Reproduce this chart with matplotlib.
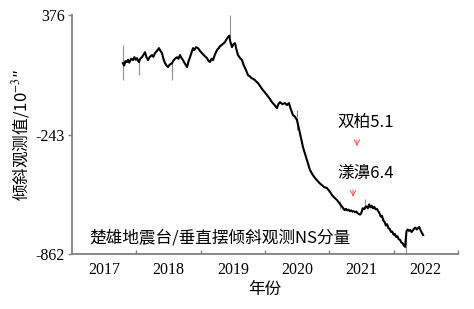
import matplotlib
matplotlib.use("Agg")
import matplotlib.pyplot as plt

plt.rcParams['font.family'] = ['Liberation Serif', 'Noto Sans CJK SC', 'DejaVu Sans']
plt.rcParams['mathtext.fontset'] = 'stix'

# 观测曲线 (年, 值)
years = [2017.79, 2017.81, 2017.83, 2017.855, 2017.87, 2017.89, 2017.92, 2017.948, 2017.97, 2017.99,
         2018.01, 2018.025, 2018.041, 2018.06, 2018.088, 2018.11, 2018.135, 2018.155, 2018.181, 2018.21,
         2018.244, 2018.265, 2018.29, 2018.32, 2018.352, 2018.375, 2018.399, 2018.42, 2018.446, 2018.47,
         2018.492, 2018.52, 2018.554, 2018.575, 2018.60, 2018.632, 2018.655, 2018.679, 2018.70, 2018.725,
         2018.755, 2018.788, 2018.81, 2018.834, 2018.86, 2018.881, 2018.90, 2018.93, 2018.959, 2018.99,
         2019.021, 2019.06, 2019.099, 2019.12, 2019.145, 2019.17, 2019.192, 2019.22, 2019.254, 2019.28,
         2019.301, 2019.34, 2019.378, 2019.40, 2019.425, 2019.445, 2019.46, 2019.487, 2019.51, 2019.534,
         2019.555, 2019.58, 2019.61, 2019.643, 2019.67, 2019.70, 2019.736, 2019.76, 2019.79, 2019.82,
         2019.845, 2019.87, 2019.891, 2019.93, 2019.969, 2020.00, 2020.031, 2020.07, 2020.109, 2020.15,
         2020.187, 2020.21, 2020.233, 2020.27, 2020.311, 2020.34, 2020.373, 2020.40, 2020.435, 2020.465,
         2020.498, 2020.52, 2020.544, 2020.57, 2020.591, 2020.62, 2020.653, 2020.68, 2020.70, 2020.74,
         2020.777, 2020.81, 2020.85, 2020.886, 2020.92, 2020.964, 2021.00, 2021.042, 2021.08, 2021.119,
         2021.16, 2021.213, 2021.24, 2021.26, 2021.28, 2021.30, 2021.32, 2021.34, 2021.36, 2021.38,
         2021.40, 2021.42, 2021.44, 2021.46, 2021.48, 2021.50, 2021.52, 2021.54, 2021.56, 2021.58,
         2021.60, 2021.62, 2021.64, 2021.66, 2021.68, 2021.70, 2021.72, 2021.74, 2021.76, 2021.78,
         2021.80, 2021.82, 2021.84, 2021.86, 2021.88, 2021.90, 2021.92, 2021.94, 2021.96, 2021.98,
         2022.00, 2022.02, 2022.04, 2022.06, 2022.08, 2022.10, 2022.12, 2022.14, 2022.16, 2022.18,
         2022.20, 2022.22, 2022.24, 2022.26, 2022.28, 2022.30, 2022.32, 2022.34, 2022.36, 2022.38,
         2022.40, 2022.42, 2022.44, 2022.46]
values = [127, 115, 138, 133, 145, 130, 150, 143, 158, 145,
          153, 140, 133, 150, 158, 170, 184, 160, 143, 160,
          169, 160, 179, 190, 205, 190, 179, 150, 127, 115,
          107, 120, 127, 140, 150, 158, 150, 169, 155, 143,
          125, 107, 135, 158, 185, 205, 195, 210, 205, 190,
          179, 165, 153, 140, 133, 150, 143, 170, 195, 205,
          215, 225, 236, 250, 262, 270, 240, 210, 225, 231,
          200, 169, 155, 143, 115, 95, 65, 60, 50, 45,
          39, 30, 24, 5, -13, -25, -38, -55, -75, -90,
          -106, -85, -75, -85, -80, -90, -80, -110, -142, -150,
          -168, -200, -235, -275, -308, -340, -375, -405, -427, -450,
          -468, -480, -495, -505, -515, -520, -535, -556, -570, -582,
          -600, -624, -635, -628, -636, -632, -640, -636, -642, -640,
          -646, -642, -650, -655, -658, -648, -625, -630, -620, -615,
          -625, -605, -620, -612, -625, -618, -630, -628, -640, -650,
          -668, -664, -688, -696, -714, -708, -728, -732, -748, -746,
          -762, -758, -774, -770, -786, -788, -802, -806, -818, -825,
          -745, -735, -742, -738, -748, -740, -730, -725, -735, -728,
          -722, -740, -752, -764]

# 突跳 (年, 下限, 上限)
spike_years = [2017.79, 2018.041, 2018.554, 2019.456, 2020.498, 2021.16, 2021.55, 2022.19]
spike_low = [39, 65, 39, 262, -220, -630, -630, -857]
spike_high = [221, 150, 130, 376, -116, -585, -575, -738]

year_labels = ['2017', '2018', '2019', '2020', '2021', '2022']
y_ticks = [-862, -243, 376]

fig = plt.figure(figsize=(4.74, 3.09), dpi=100)
ax = fig.add_axes([0.152, 0.178, 0.814, 0.773])

ax.vlines(spike_years, spike_low, spike_high, color='#909090', lw=0.8)
ax.plot(years, values, color='black', lw=1.5)

ax.set_xlim(2017, 2023)
ax.set_ylim(-862, 376)
ax.set_xticks(range(2018, 2024))
ax.set_xticklabels([])
ax.set_xticks([2017.5 + i for i in range(6)], minor=True)
ax.set_xticklabels(year_labels, minor=True, fontsize=11.5)
ax.tick_params(axis='x', which='major', direction='in', length=3, color='#808080', width=1)
ax.tick_params(axis='x', which='minor', length=0, pad=6)
ax.set_yticks(y_ticks)
ax.set_yticklabels(['-862', '-243', '376'], fontsize=11.5)
ax.tick_params(axis='y', direction='out', length=3, color='#808080', width=1, pad=2)

for s in ['top', 'right']:
    ax.spines[s].set_visible(False)
for s in ['left', 'bottom']:
    ax.spines[s].set_color('#808080')
    ax.spines[s].set_linewidth(1.3)

ax.set_xlabel('年份', family=['Noto Sans CJK SC'], fontsize=12, labelpad=2)
ax.set_ylabel('倾斜观测值/10$^{-3}$″', family=['Noto Sans CJK SC', 'DejaVu Sans'],
              fontsize=12, labelpad=3)

cjk = ['Noto Sans CJK SC', 'Liberation Serif']
ax.text(2017.27, -779, '楚雄地震台/垂直摆倾斜观测NS分量', family=cjk, fontsize=12, va='center')

# 地震标注
ax.text(2021.57, -178, '双柏5.1', family=cjk, fontsize=12, ha='center', va='center')
ax.annotate('', xy=(2021.43, -318), xytext=(2021.43, -256),
            arrowprops=dict(arrowstyle='->', color='#ff5050', lw=0.7))
ax.text(2021.57, -442, '漾濞6.4', family=cjk, fontsize=12, ha='center', va='center')
ax.annotate('', xy=(2021.37, -580), xytext=(2021.37, -515),
            arrowprops=dict(arrowstyle='->', color='#ff5050', lw=0.7))

fig.savefig('out.png', dpi=100)
